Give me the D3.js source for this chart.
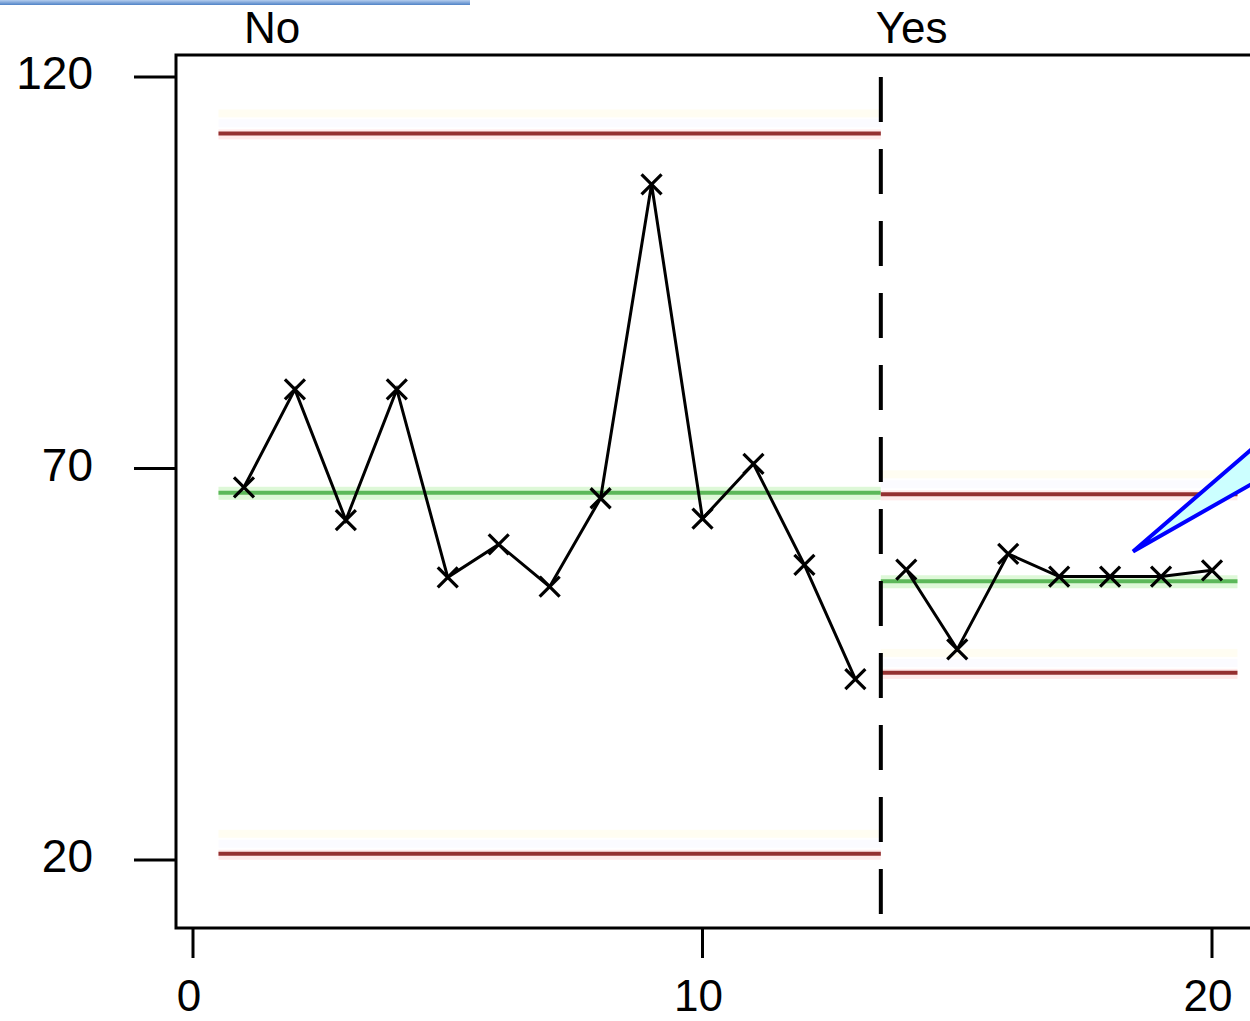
<!DOCTYPE html>
<html>
<head>
<meta charset="utf-8">
<script src="https://cdn.jsdelivr.net/npm/d3@7"></script>
<style>
  body { margin: 0; background: #fff; }
  svg { display: block; }
  text { font-family: "Liberation Sans", Arial, sans-serif; fill: #000; }
</style>
</head>
<body>
<svg id="chart" width="1250" height="1021"></svg>
<script>
var obs = [1, 2, 3, 4, 5, 6, 7, 8, 9, 10, 11, 12, 13, 14, 15, 16, 17, 18, 19, 20]
var values = [67.6, 80.1, 63.4, 80.1, 56.1, 60.3, 54.9, 66.2, 106.3, 63.6, 70.6, 57.7, 43.1,
              57.1, 46.9, 59.1, 56.2, 56.2, 56.2, 57.0]
var phaseNames = ["No", "Yes"]
var phaseStart = [0.5, 13.5]
var phaseEnd = [13.5, 20.5]
var ucl = [112.8, 66.7]
var centre = [66.9, 55.6]
var lcl = [20.8, 43.9]
var xTicks = [0, 10, 20]
var yTicks = [20, 70, 120]
var splitAt = 13.5
var dashRange = [120, 13]
// callout wedge, in data units: tip then the two far corners
var callout = [[18.45, 59.4], [20.8, 72.6], [20.8, 68.1]]

var svg = d3.select("#chart")
var x = d3.scaleLinear().domain([0, 20]).range([193, 1212])
var y = d3.scaleLinear().domain([20, 120]).range([860, 77])

var box = {left: 176, top: 55, right: 1254, bottom: 928}

// blue strip at top-left
var grad = svg.append("defs").append("linearGradient").attr("id", "strip")
    .attr("x1", 0).attr("y1", 0).attr("x2", 0).attr("y2", 1)
grad.append("stop").attr("offset", "0%").attr("stop-color", "#b4cdee")
grad.append("stop").attr("offset", "100%").attr("stop-color", "#4f82c6")
svg.append("rect").attr("x", 0).attr("y", 0).attr("width", 470).attr("height", 5)
    .style("fill", "url(#strip)")

var phases = phaseNames.map(function(n, i) {
  return {name: n, start: phaseStart[i], end: phaseEnd[i], ucl: ucl[i], cl: centre[i], lcl: lcl[i]}
})

var limits = svg.append("g")
phases.forEach(function(p) {
  var x0 = x(p.start), x1 = x(p.end)
  ;[p.ucl, p.lcl].forEach(function(v) {
    limits.append("rect").attr("x", x0).attr("y", y(v) - 24).attr("width", x1 - x0).attr("height", 8)
        .style("fill", "#fffdf2")
    limits.append("rect").attr("x", x0).attr("y", y(v) - 14).attr("width", x1 - x0).attr("height", 8)
        .style("fill", "#fbfbff")
    limits.append("rect").attr("x", x0).attr("y", y(v) - 4).attr("width", x1 - x0).attr("height", 10)
        .style("fill", "#ffeaea")
    limits.append("line").attr("x1", x0).attr("x2", x1).attr("y1", y(v)).attr("y2", y(v))
        .style("stroke", "#943030").style("stroke-width", 4)
  })
  limits.append("rect").attr("x", x0).attr("y", y(p.cl) - 6).attr("width", x1 - x0).attr("height", 13)
      .style("fill", "#def8d8")
  limits.append("line").attr("x1", x0).attr("x2", x1).attr("y1", y(p.cl)).attr("y2", y(p.cl))
      .style("stroke", "#5cb85a").style("stroke-width", 4)
})

// phase split
svg.append("line").attr("x1", x(splitAt)).attr("x2", x(splitAt))
    .attr("y1", y(dashRange[0])).attr("y2", y(dashRange[1]))
    .style("stroke", "#000").style("stroke-width", 4).style("stroke-dasharray", "45,27")

svg.selectAll(".phase-label").data(phases).enter().append("text").attr("class", "phase-label")
    .attr("x", function(d, i) { return i == 0 ? x(1) : x(d.start) - 5 })
    .attr("y", 43)
    .style("font-size", "44px")
    .text(function(d) { return d.name })

// series, one line per phase
var pts = obs.map(function(o, i) { return {x: o, y: values[i]} })
var line = d3.line().x(function(d) { return x(d.x) }).y(function(d) { return y(d.y) })
phases.forEach(function(p) {
  var seg = pts.filter(function(d) { return d.x > p.start && d.x < p.end })
  svg.append("path").datum(seg).attr("d", line)
      .style("fill", "none").style("stroke", "#000").style("stroke-width", 3)
})

var s = 10
svg.selectAll(".mark").data(pts).enter().append("path").attr("class", "mark")
    .attr("d", function(d) {
      var cx = x(d.x), cy = y(d.y)
      return "M" + (cx - s) + "," + (cy - s) + "L" + (cx + s) + "," + (cy + s) +
             "M" + (cx + s) + "," + (cy - s) + "L" + (cx - s) + "," + (cy + s)
    })
    .style("stroke", "#000").style("stroke-width", 3.2).style("fill", "none")

// callout wedge
svg.append("path")
    .attr("d", line.x(function(d) { return x(d[0]) }).y(function(d) { return y(d[1]) })(callout) + "Z")
    .style("fill", "#ccffff").style("stroke", "#0000ff").style("stroke-width", 4)
    .style("stroke-linejoin", "miter")

// frame
svg.append("rect").attr("x", box.left).attr("y", box.top)
    .attr("width", box.right - box.left).attr("height", box.bottom - box.top)
    .style("fill", "none").style("stroke", "#000").style("stroke-width", 3)

// axes
var yAxis = svg.append("g")
yAxis.selectAll("line").data(yTicks).enter().append("line")
    .attr("x1", 134).attr("x2", box.left).attr("y1", function(d) { return y(d) }).attr("y2", function(d) { return y(d) })
    .style("stroke", "#000").style("stroke-width", 3)
yAxis.selectAll("text").data(yTicks).enter().append("text")
    .attr("x", 93).attr("y", function(d) { return y(d) + 12 })
    .attr("text-anchor", "end").style("font-size", "46px")
    .text(function(d) { return d })

var xAxis = svg.append("g")
xAxis.selectAll("line").data(xTicks).enter().append("line")
    .attr("x1", function(d) { return x(d) }).attr("x2", function(d) { return x(d) })
    .attr("y1", box.bottom).attr("y2", 958)
    .style("stroke", "#000").style("stroke-width", 3)
xAxis.selectAll("text").data(xTicks).enter().append("text")
    .attr("x", function(d) { return x(d) - 4 }).attr("y", 1011)
    .attr("text-anchor", "middle").style("font-size", "44px")
    .text(function(d) { return d })
</script>
</body>
</html>
